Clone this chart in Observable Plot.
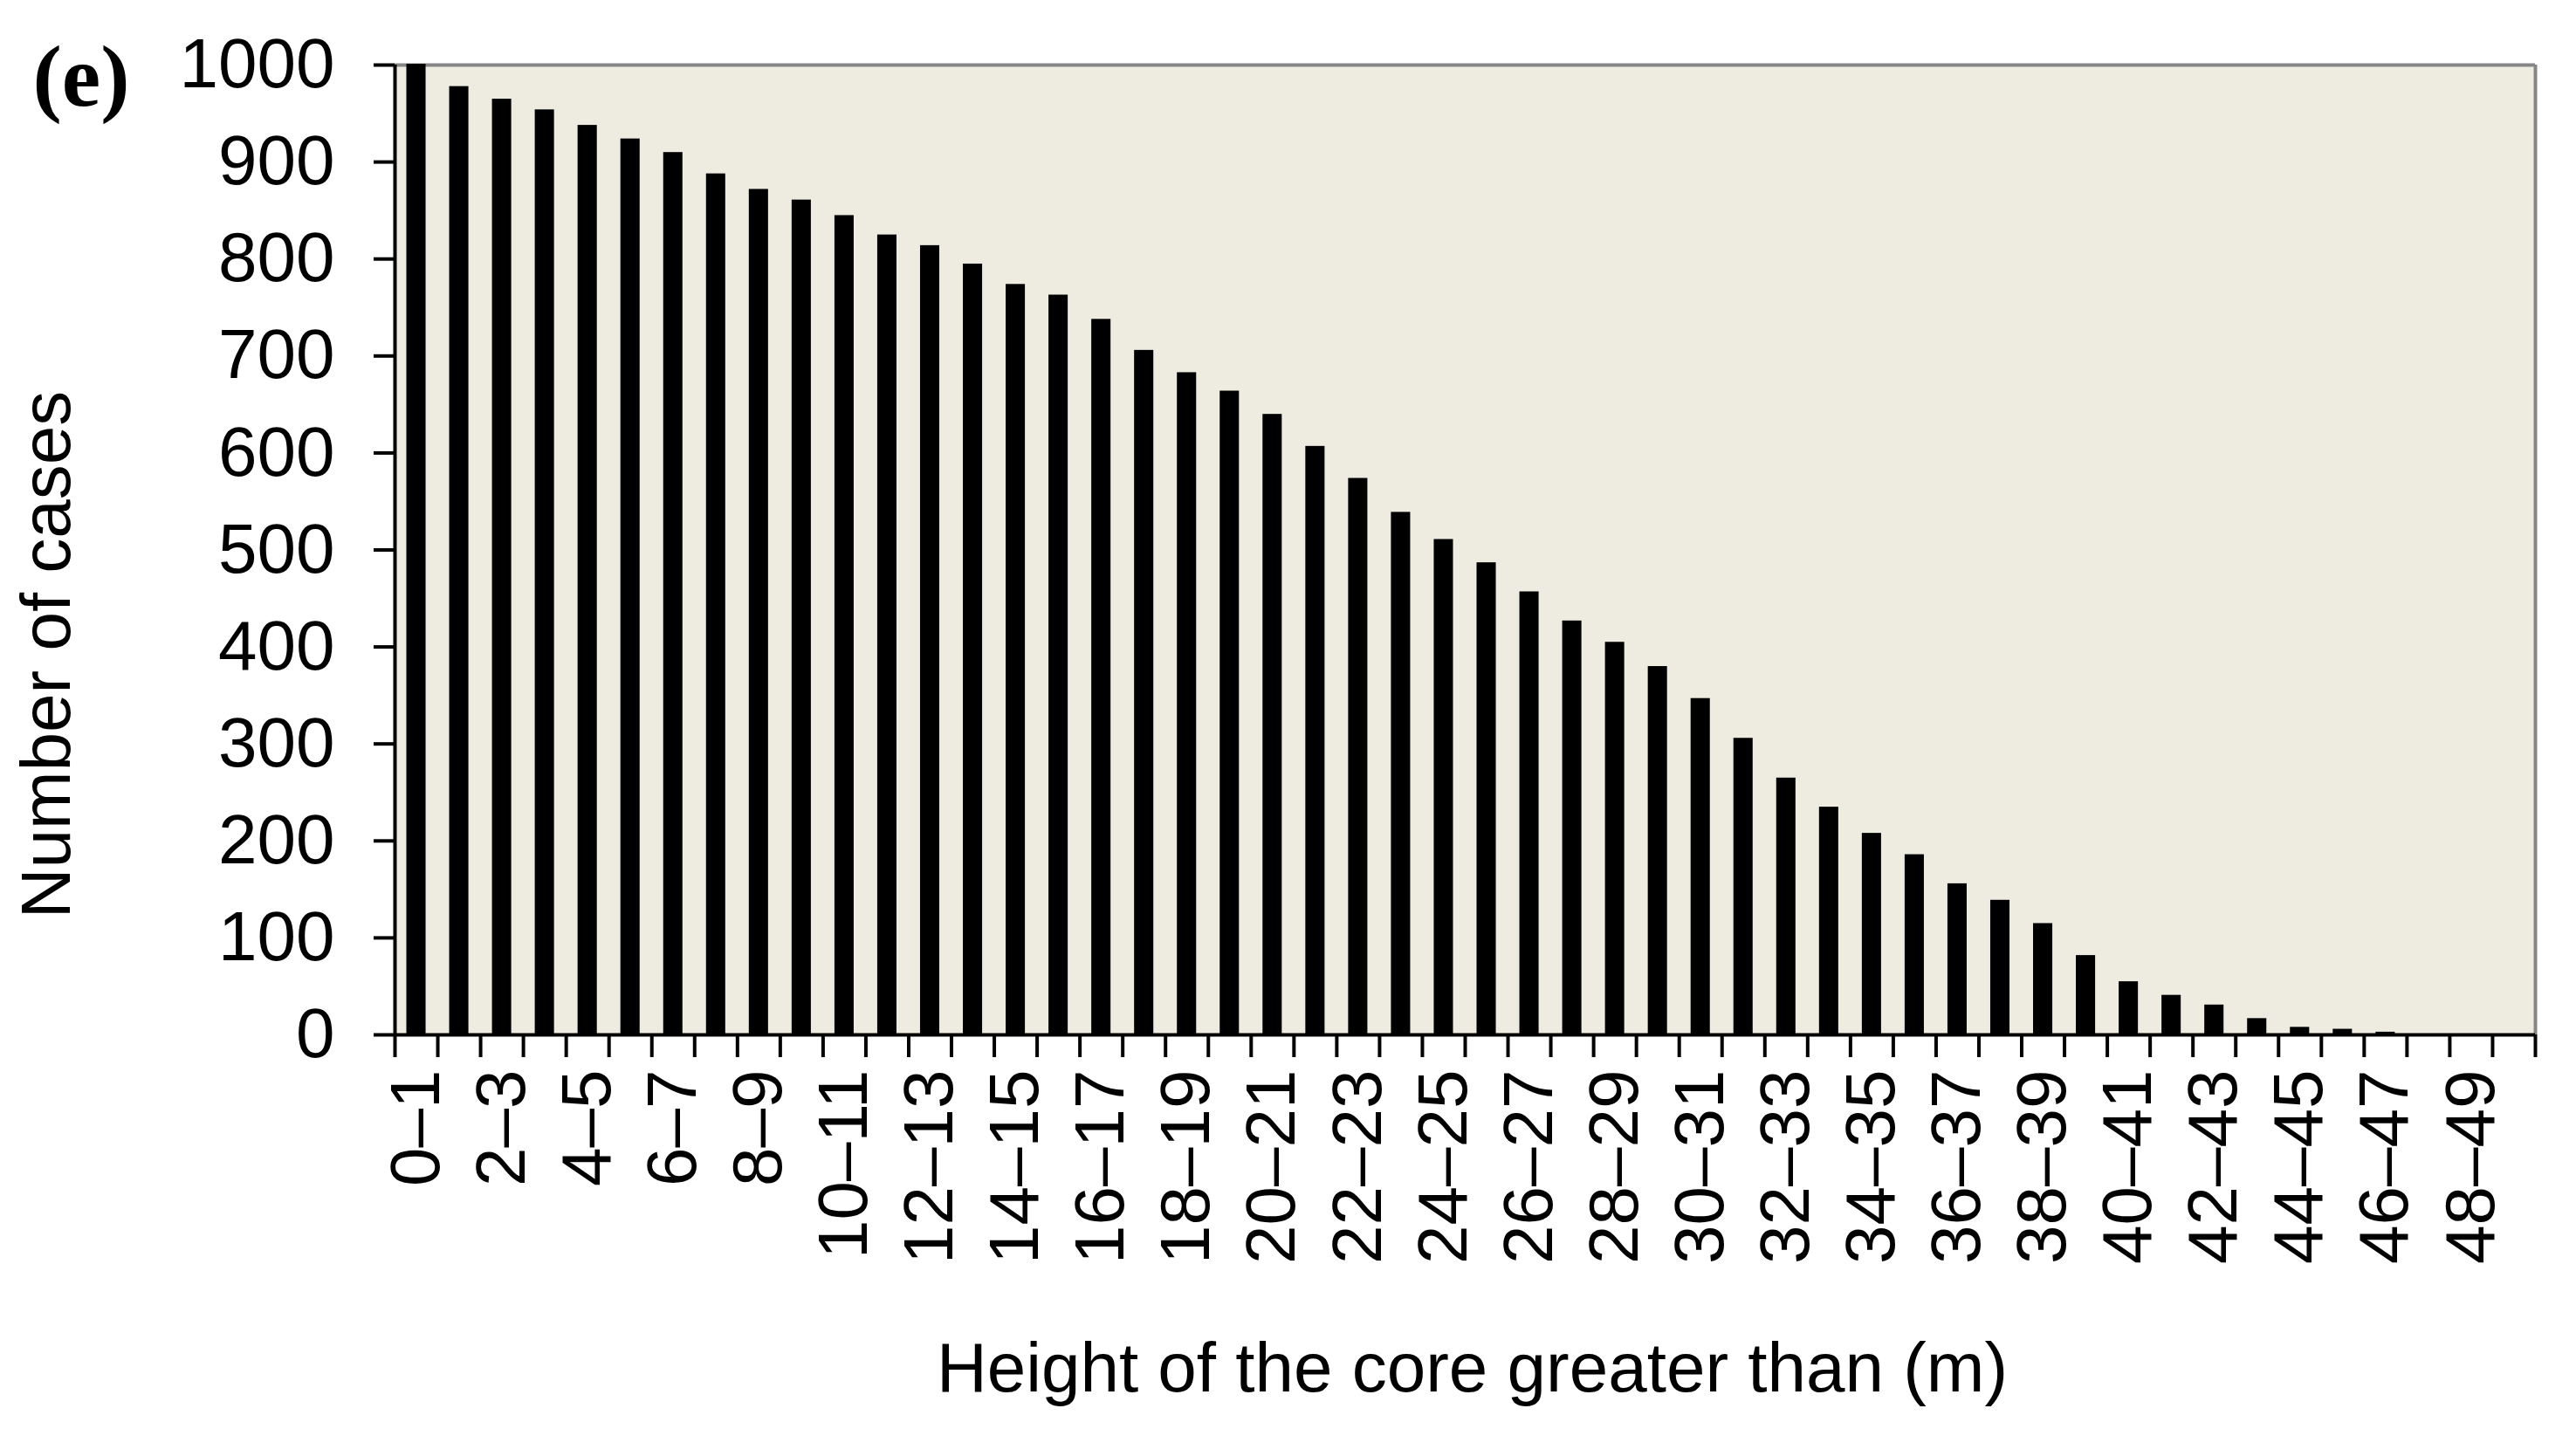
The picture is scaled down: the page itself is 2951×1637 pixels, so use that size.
<!DOCTYPE html>
<html>
<head>
<meta charset="utf-8">
<script src="https://cdn.jsdelivr.net/npm/d3@7"></script>
<script src="https://cdn.jsdelivr.net/npm/@observablehq/plot@0.6"></script>
<style>
  html, body { margin: 0; padding: 0; background: #ffffff; }
  #chart svg { display: block; }
</style>
</head>
<body>
<div id="chart"></div>
<script>
// Height-of-core classes (m)
const categories = [
  "0–1","1–2","2–3","3–4","4–5","5–6","6–7","7–8","8–9","9–10",
  "10–11","11–12","12–13","13–14","14–15","15–16","16–17","17–18","18–19","19–20",
  "20–21","21–22","22–23","23–24","24–25","25–26","26–27","27–28","28–29","29–30",
  "30–31","31–32","32–33","33–34","34–35","35–36","36–37","37–38","38–39","39–40",
  "40–41","41–42","42–43","43–44","44–45","45–46","46–47","47–48","48–49","49–50"
];
// Number of cases
const cases = [
  999, 976, 963, 952, 936, 922, 908, 886, 870, 859,
  843, 823, 812, 793, 772, 761, 736, 704, 681, 662,
  638, 605, 572, 537, 509, 485, 455, 425, 403, 378,
  345, 304, 263, 233, 206, 184, 154, 137, 113, 80,
  53, 39, 29, 15, 6, 4, 1, 0, 0, 0
];
const yTicks = [0, 100, 200, 300, 400, 500, 600, 700, 800, 900, 1000];
const xTickLabels = [
  "0–1","2–3","4–5","6–7","8–9","10–11","12–13","14–15","16–17","18–19",
  "20–21","22–23","24–25","26–27","28–29","30–31","32–33","34–35","36–37","38–39",
  "40–41","42–43","44–45","46–47","48–49"
];
const yLabel = "Number of cases";
const xLabel = "Height of the core greater than (m)";
const panelTag = "(e)";

const data = categories.map((c, i) => ({label: c, lo: i, hi: i + 1, n: cases[i]}));
const boundaries = d3.range(categories.length + 1);
const labelPositions = xTickLabels.map(l => categories.indexOf(l) + 0.5);

const chart = Plot.plot({
  width: 2951,
  height: 1637,
  marginLeft: 452,
  marginRight: 47,
  marginTop: 74,
  marginBottom: 452,
  style: {fontFamily: "'Liberation Sans', Arial, sans-serif", fontSize: "80px", background: "#ffffff", color: "#000"},
  x: {type: "linear", domain: [0, categories.length]},
  y: {domain: [0, 1000]},
  marks: [
    Plot.frame({fill: "#EEECE1", stroke: null}),
    Plot.ruleY([1000], {stroke: "#868686", strokeWidth: 4}),
    Plot.ruleX([categories.length], {stroke: "#868686", strokeWidth: 4}),
    Plot.ruleX([0], {stroke: "#000", strokeWidth: 4}),
    Plot.ruleY([0], {stroke: "#000", strokeWidth: 4}),
    Plot.rect(data, {
      filter: d => d.n > 0,
      x1: "lo", x2: "hi", y1: 0, y2: "n",
      fill: "#000", stroke: "#000", strokeWidth: 4,
      insetLeft: 15.5, insetRight: 15.5
    }),
    Plot.axisY({ticks: yTicks, tickFormat: d => String(d), tickSize: 24, tickPadding: 45, strokeWidth: 4, fontSize: 80, label: null}),
    Plot.axisX({ticks: boundaries, tickSize: 26, tickFormat: () => "", strokeWidth: 4, label: null}),
    Plot.axisX({
      ticks: labelPositions,
      tickFormat: d => categories[Math.floor(d)],
      tickSize: 0, tickPadding: 40, tickRotate: -90, fontSize: 80, label: null
    }),
    Plot.text([yLabel], {
      text: d => d, frameAnchor: "left", textAnchor: "middle", lineAnchor: "middle",
      rotate: -90, dx: -398, dy: 120, fontSize: 80
    }),
    Plot.text([xLabel], {
      text: d => d, frameAnchor: "bottom", textAnchor: "middle", lineAnchor: "middle",
      dx: 8, dy: 383, fontSize: 80
    }),
    Plot.text([panelTag], {
      text: d => d, frameAnchor: "top-left", textAnchor: "start", lineAnchor: "middle",
      dx: -415, dy: 14,
      fontSize: 100, fontWeight: "bold", fontFamily: "'Liberation Serif', 'Times New Roman', serif"
    })
  ]
});
document.getElementById("chart").appendChild(chart);
</script>
</body>
</html>
